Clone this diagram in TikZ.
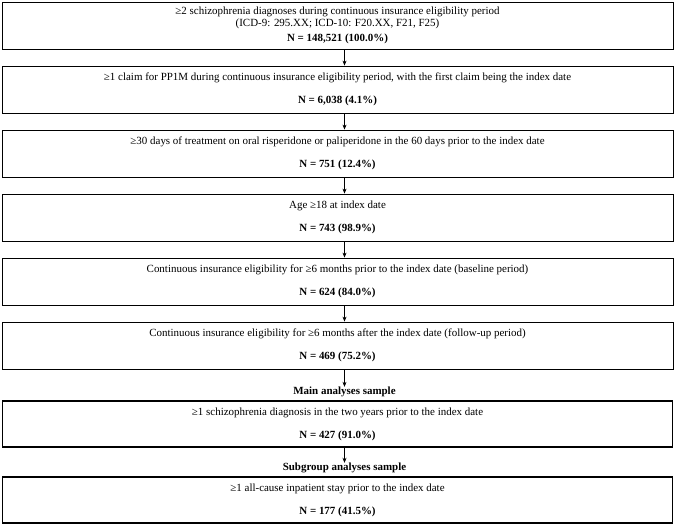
\documentclass[tikz,border=0pt]{standalone}
\usepackage{fontspec}
\setmainfont{Liberation Serif}
\usetikzlibrary{positioning,arrows.meta}

\tikzset{
  stepbox/.style={draw, line width=0.8bp, minimum width=671bp, minimum height=47bp,
    align=center, inner sep=0pt, font=\fontsize{11}{12.5}\selectfont},
  mainbox/.style={stepbox, line width=1.7bp, minimum width=670bp, minimum height=46bp},
  flow/.style={-{Stealth[length=5bp,width=4bp]}, line width=0.6bp},
  grouplabel/.style={inner sep=0pt, font=\fontsize{11}{12.5}\selectfont\bfseries},
}

\begin{document}
\begin{tikzpicture}[x=1bp,y=-1bp]
    \useasboundingbox (0,0) rectangle (675,524);

    % attrition steps
    \node[stepbox] (b1) at (337.5,25.5) {≥2 schizophrenia diagnoses during continuous insurance eligibility period\\
        (ICD-9: 295.XX; ICD-10: F20.XX, F21, F25)\\[2.5bp]
        \textbf{N = 148,521 (100.0\%)}};
    \node[stepbox] (b2) at (337.5,89.5) {≥1 claim for PP1M during continuous insurance eligibility period, with the first claim being the index date\\[10.5bp]
        \textbf{N = 6,038 (4.1\%)}};
    \node[stepbox] (b3) at (337.5,153.5) {≥30 days of treatment on oral risperidone or paliperidone in the 60 days prior to the index date\\[10.5bp]
        \textbf{N = 751 (12.4\%)}};
    \node[stepbox] (b4) at (337.5,217.5) {Age ≥18 at index date\\[10.5bp]
        \textbf{N = 743 (98.9\%)}};
    \node[stepbox] (b5) at (337.5,281.5) {Continuous insurance eligibility for ≥6 months prior to the index date (baseline period)\\[10.5bp]
        \textbf{N = 624 (84.0\%)}};
    \node[stepbox] (b6) at (337.5,345.5) {Continuous insurance eligibility for ≥6 months after the index date (follow-up period)\\[10.5bp]
        \textbf{N = 469 (75.2\%)}};

    % samples
    \node[grouplabel] (main) at (344.5,392) {Main analyses sample};
    \node[mainbox] (b7) at (337.5,424) {≥1 schizophrenia diagnosis in the two years prior to the index date\\[10.5bp]
        \textbf{N = 427 (91.0\%)}};
    \node[grouplabel] (sub) at (344.5,468) {Subgroup analyses sample};
    \node[mainbox] (b8) at (337.5,500) {≥1 all-cause inpatient stay prior to the index date\\[10.5bp]
        \textbf{N = 177 (41.5\%)}};

    \foreach \a/\b in {b1/b2,b2/b3,b3/b4,b4/b5,b5/b6}
        \draw[flow] ([xshift=7bp]\a.south) -- ([xshift=7bp]\b.north);
    \draw[flow] ([xshift=7bp]b6.south) -- (main.north);
    \draw[flow] ([xshift=7bp]b7.south) -- (sub.north);
\end{tikzpicture}
\end{document}
